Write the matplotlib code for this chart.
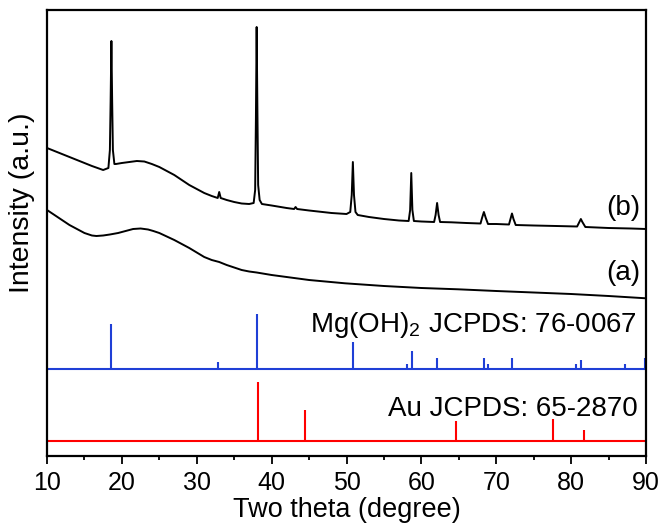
import matplotlib
matplotlib.use("Agg")
import matplotlib.pyplot as plt
from matplotlib.ticker import MultipleLocator

plt.rcParams['font.family'] = ['Liberation Sans', 'DejaVu Sans']
plt.rcParams['mathtext.fontset'] = 'custom'
plt.rcParams['mathtext.rm'] = 'Liberation Sans'

# ---- data ----
# curve (b): sample with Mg(OH)2 / Au
b_theta = [10, 12, 14, 16, 17.5, 18.2, 18.4, 18.5, 18.6, 18.7, 18.8, 19.0, 19.2, 20, 21, 22, 23,
           24, 25, 26, 27, 28, 29, 30, 31, 32, 32.8, 33.0, 33.2, 34, 35, 36, 37, 37.6, 37.8,
           37.9, 38.0, 38.1, 38.2, 38.4, 38.7, 40, 42, 43, 43.2, 43.4, 45, 48, 50, 50.5, 50.7,
           50.85, 51.0, 51.2, 51.5, 53, 55, 57, 58.3, 58.5, 58.65, 58.8, 59.0, 60, 61.7, 61.9,
           62.1, 62.3, 62.5, 64, 66, 67.9, 68.1, 68.35, 68.6, 68.9, 70, 71.7, 71.9, 72.1, 72.3,
           72.6, 75, 78, 80.8, 81.1, 81.3, 81.5, 81.9, 85, 88, 90]
b_int = [308, 302, 296, 290, 286, 288, 306, 356, 415, 356, 306, 292, 292, 293, 294, 295, 294.5,
         292, 289, 285, 281, 276, 271, 267, 263, 260, 258, 264, 258, 256, 254, 252.5, 252, 253, 266,
         336, 429, 346, 271, 256, 252, 250.5, 248, 247, 249, 247, 245.5, 243, 242, 244, 261,
         294, 261, 244, 241, 239, 237, 235.5, 235, 246, 283, 246, 235, 234.5, 234, 241,
         253, 241, 234, 233.7, 233, 232.5, 238, 244, 238, 232, 232, 231.5, 237, 242.5, 237,
         231, 230.5, 230, 229.5, 234, 237, 234, 229, 228, 227.5, 227]

# curve (a)
a_theta = [10, 11, 12, 13, 14, 15, 16, 16.6, 17.5, 18.4, 19.5, 20.5, 21.5, 22.5, 23.5, 24.2, 25,
           26, 27, 28, 29, 30, 31, 32, 33, 34, 35, 36, 37, 38, 40, 45, 49.8, 55, 60, 64.9, 70,
           75, 80, 85, 90]
a_int = [246, 241, 236, 231, 227, 223, 220.5, 220, 220.5, 221.5, 223, 225, 227, 227.5, 226.5, 225, 223,
         219.5, 216, 212, 208, 203.5, 199, 196, 194, 191, 188.5, 186, 184.5, 183.5, 181, 176, 172.7,
         170, 168, 166.7, 165, 163.5, 162, 160, 157.7]

# Mg(OH)2 JCPDS 76-0067 reference lines
mg_pos = [18.6, 32.9, 38.0, 50.9, 58.1, 58.7, 62.1, 68.3, 68.9, 72.1, 80.6, 81.3, 87.2, 89.9]
mg_h = [45, 7, 55, 27, 5.5, 18, 11.5, 11.5, 5.5, 11.5, 5.5, 9, 5.5, 11.5]
mg_base = 87

# Au JCPDS 65-2870 reference lines
au_pos = [38.2, 44.4, 64.6, 77.6, 81.7]
au_h = [59, 31, 20, 22, 11]
au_base = 15

xticks = [10, 20, 30, 40, 50, 60, 70, 80, 90]

# ---- figure ----
fig = plt.figure(figsize=(6.63, 5.25), dpi=100)
ax = fig.add_axes([47/663, 1 - 456/525, 599/663, 446/525])

ax.plot(b_theta, b_int, color='black', lw=1.4)
ax.plot(a_theta, a_int, color='black', lw=1.4)

blue = '#1f3fd6'
red = '#ff0000'
ax.axhline(mg_base, color=blue, lw=1.5)
ax.vlines(mg_pos, mg_base, [mg_base + h for h in mg_h], color=blue, lw=1.5)
ax.axhline(au_base, color=red, lw=1.5)
ax.vlines(au_pos, au_base, [au_base + h for h in au_h], color=red, lw=1.5)

fs = 20
ax.text(89.2, 248, '(b)', ha='right', va='center', fontsize=fs)
ax.text(89.2, 183, '(a)', ha='right', va='center', fontsize=fs)
ax.text(88.8, 124, r'Mg(OH)$\mathregular{_2}$ JCPDS: 76-0067', ha='right', va='baseline', fontsize=fs)
ax.text(88.9, 40, 'Au JCPDS: 65-2870', ha='right', va='baseline', fontsize=fs)

ax.set_xlim(10, 90)
ax.set_ylim(0, 446)
ax.set_xticks(xticks)
ax.xaxis.set_minor_locator(MultipleLocator(5))
ax.set_yticks([])
ax.tick_params(axis='x', which='major', direction='out', length=6, width=1.3, labelsize=18, pad=5)
ax.tick_params(axis='x', which='minor', direction='out', length=3, width=1.3)
for s in ax.spines.values():
    s.set_linewidth(1.6)

ax.set_xlabel('Two theta (degree)', fontsize=19.5, labelpad=1)
ax.set_ylabel('Intensity (a.u.)', fontsize=20.5)
ax.yaxis.set_label_coords(-0.02, 0.567)

fig.savefig('out.png', dpi=100)
